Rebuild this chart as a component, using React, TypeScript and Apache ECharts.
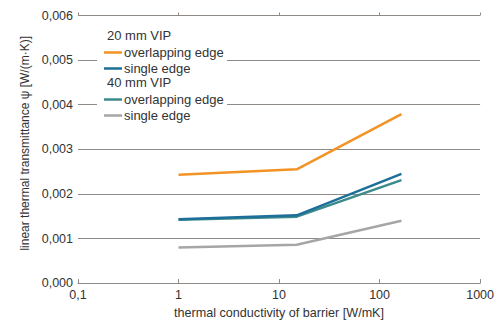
import React, { useEffect, useRef } from "react";
import * as echarts from "echarts";

// thermal conductivity of the barrier layer [W/mK]
const conductivity = [1, 15, 165];

// linear thermal transmittance psi [W/(m·K)]
const vip20Overlap = [0.00243, 0.00255, 0.00379];
const vip20Single = [0.00143, 0.00152, 0.00245];
const vip40Overlap = [0.00142, 0.00149, 0.00231];
const vip40Single = [0.0008, 0.00086, 0.0014];

const groupHeaders = ["20 mm VIP", "40 mm VIP"];
const edgeLabels = ["overlapping edge", "single edge"];

const colors = ["#f39325", "#1d6f99", "#3b8b8c", "#a6a6a6"];

const FONT = "Liberation Sans, Arial, sans-serif";
const TEXT = "#333333";
const GRID = "#8f8a86";

const pairs = (ys: number[]) => conductivity.map((x, i) => [x, ys[i]]);

const seriesDefs = [
  { id: "20|" + edgeLabels[0], data: vip20Overlap },
  { id: "20|" + edgeLabels[1], data: vip20Single },
  { id: "40|" + edgeLabels[0], data: vip40Overlap },
  { id: "40|" + edgeLabels[1], data: vip40Single },
];

const commaFmt = (v: number, digits: number) =>
  v.toFixed(digits).replace(".", ",");

export default function App() {
  const ref = useRef<HTMLDivElement>(null);

  useEffect(() => {
    if (!ref.current) return;
    const chart = echarts.init(ref.current, undefined, { renderer: "svg" });

    const legendCommon = {
      orient: "vertical" as const,
      left: 104,
      icon: "rect",
      itemWidth: 18,
      itemHeight: 2.5,
      itemGap: 1,
      selectedMode: false,
      formatter: (name: string) => name.split("|")[1],
      textStyle: {
        fontFamily: FONT,
        fontSize: 13,
        color: TEXT,
        lineHeight: 15,
        padding: [0, 0, 0, -3],
      },
      padding: 0,
    };

    chart.setOption({
      animation: false,
      backgroundColor: "#ffffff",
      grid: { left: 78, right: 15, top: 15.5, bottom: 38.5 },
      xAxis: [
        {
          type: "log",
          logBase: 10,
          min: 0.1,
          max: 1000,
          name: "thermal conductivity of barrier [W/mK]",
          nameLocation: "middle",
          nameGap: 20,
          nameTextStyle: { fontFamily: FONT, fontSize: 12.6, color: TEXT },
          axisLine: { show: true, lineStyle: { color: GRID, width: 1 } },
          axisTick: { show: true, inside: true, length: 4, lineStyle: { color: GRID } },
          axisLabel: {
            fontFamily: FONT,
            fontSize: 12.5,
            color: TEXT,
            margin: 5,
            formatter: (v: number) => commaFmt(v, v < 1 ? 1 : 0),
          },
          splitLine: { show: false },
          minorTick: { show: false },
        },
        {
          type: "log",
          logBase: 10,
          min: 0.1,
          max: 1000,
          position: "top",
          axisLine: { show: false },
          axisTick: { show: true, inside: false, length: 3, lineStyle: { color: GRID } },
          axisLabel: { show: false },
          splitLine: { show: false },
        },
      ],
      yAxis: {
        type: "value",
        min: 0,
        max: 0.006,
        interval: 0.001,
        name: "linear thermal transmittance ψ [W/(m·K)]",
        nameLocation: "middle",
        nameGap: 46,
        nameTextStyle: {
          fontFamily: FONT,
          fontSize: 12,
          color: TEXT,
          padding: [0, 0, 0, 12],
        },
        axisLine: { show: false },
        axisTick: { show: false },
        axisLabel: {
          fontFamily: FONT,
          fontSize: 12.5,
          color: TEXT,
          margin: 5,
          formatter: (v: number) => commaFmt(v, 3),
        },
        splitLine: { show: true, lineStyle: { color: GRID, width: 1 } },
      },
      legend: [
        {
          ...legendCommon,
          top: 45,
          data: [seriesDefs[0].id, seriesDefs[1].id],
        },
        {
          ...legendCommon,
          top: 92,
          data: [seriesDefs[2].id, seriesDefs[3].id],
        },
      ],
      graphic: [
        {
          type: "rect",
          z: 1,
          shape: { x: 97, y: 27, width: 130, height: 97 },
          style: { fill: "#ffffff" },
        },
        {
          type: "text",
          z: 2,
          left: 107,
          top: 29,
          style: {
            text: groupHeaders[0],
            font: `13px ${FONT}`,
            fill: TEXT,
          },
        },
        {
          type: "text",
          z: 2,
          left: 107,
          top: 76,
          style: {
            text: groupHeaders[1],
            font: `13px ${FONT}`,
            fill: TEXT,
          },
        },
      ],
      series: seriesDefs.map((s, i) => ({
        name: s.id,
        type: "line",
        data: pairs(s.data),
        symbol: "none",
        z: 3 + (3 - i),
        lineStyle: { color: colors[i], width: 2.5 },
        itemStyle: { color: colors[i] },
      })),
    });

    return () => chart.dispose();
  }, []);

  return (
    <div
      ref={ref}
      style={{ position: "fixed", left: 0, top: 0, width: 497, height: 324 }}
    />
  );
}
